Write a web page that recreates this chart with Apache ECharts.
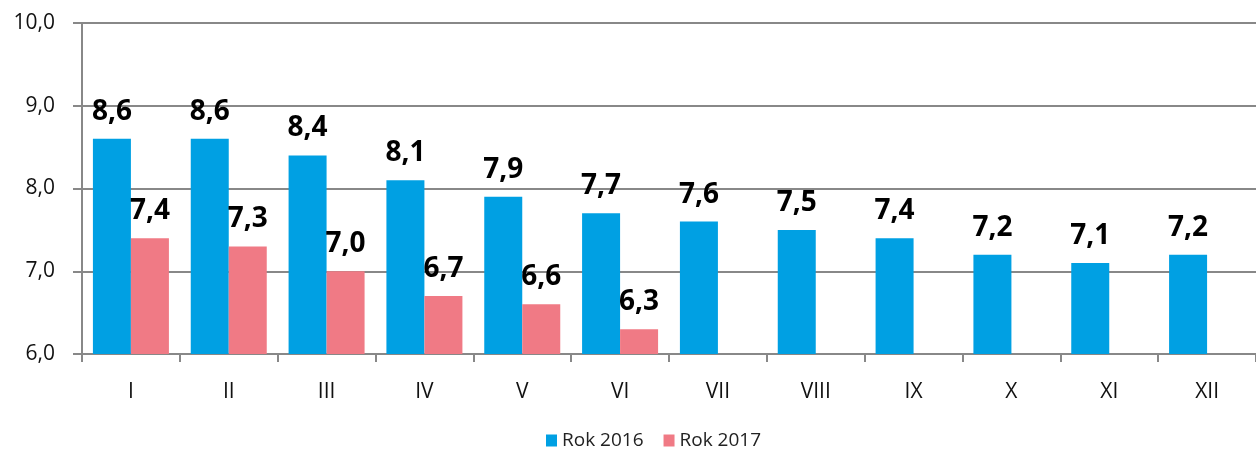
<!DOCTYPE html>
<html>
<head>
<meta charset="utf-8">
<script src="https://cdn.jsdelivr.net/npm/echarts@6/dist/echarts.min.js"></script>
<style>
  html, body { margin: 0; padding: 0; background: #fff; }
  #main { width: 1256px; height: 450px; }
</style>
</head>
<body>
<div id="main"></div>
<script>
var months = ['I', 'II', 'III', 'IV', 'V', 'VI', 'VII', 'VIII', 'IX', 'X', 'XI', 'XII'];
var rok2016 = [8.6, 8.6, 8.4, 8.1, 7.9, 7.7, 7.6, 7.5, 7.4, 7.2, 7.1, 7.2];
var rok2017 = [7.4, 7.3, 7.0, 6.7, 6.6, 6.3, null, null, null, null, null, null];
var yTicks = [6, 7, 8, 9, 10];

var myChart = echarts.init(document.getElementById('main'));

function comma(v) {
    return v.toFixed(1).replace('.', ',');
}

var barLabel = {
    show: true,
    position: 'top',
    distance: 13,
    color: '#000',
    fontSize: 28,
    fontWeight: 'bold',
    fontFamily: 'Open Sans',
    formatter: function (p) { return comma(p.value); }
};

var option = {
    animation: false,
    textStyle: { fontFamily: 'Open Sans' },
    grid: { left: 82, right: -10, top: 23, bottom: 96 },
    legend: {
        bottom: -5,
        left: 541,
        itemWidth: 11,
        itemHeight: 12,
        itemGap: 20,
        icon: 'rect',
        textStyle: { fontSize: 19, color: '#222', fontFamily: 'Open Sans' },
        data: ['Rok 2016', 'Rok 2017']
    },
    xAxis: {
        type: 'category',
        data: months,
        axisLine: { lineStyle: { color: '#888', width: 2 } },
        axisTick: { show: true, length: 8, lineStyle: { color: '#888', width: 2 } },
        axisLabel: { fontSize: 21, color: '#111', margin: 28 }
    },
    yAxis: {
        type: 'value',
        min: yTicks[0],
        max: yTicks[yTicks.length - 1],
        interval: 1,
        axisLine: { show: true, lineStyle: { color: '#888', width: 2 } },
        axisTick: { show: true, inside: false, length: 9, lineStyle: { color: '#888', width: 2 } },
        splitLine: { lineStyle: { color: '#888', width: 2 } },
        axisLabel: { fontSize: 21, color: '#111', margin: 27, formatter: function (v) { return comma(v); } }
    },
    series: [
        {
            name: 'Rok 2016',
            type: 'bar',
            data: rok2016,
            barWidth: 38,
            barGap: '0%',
            itemStyle: { color: '#00A0E3' },
            label: barLabel
        },
        {
            name: 'Rok 2017',
            type: 'bar',
            data: rok2017,
            barWidth: 38,
            itemStyle: { color: '#F07A85' },
            label: barLabel
        }
    ]
};

myChart.setOption(option);
</script>
</body>
</html>
